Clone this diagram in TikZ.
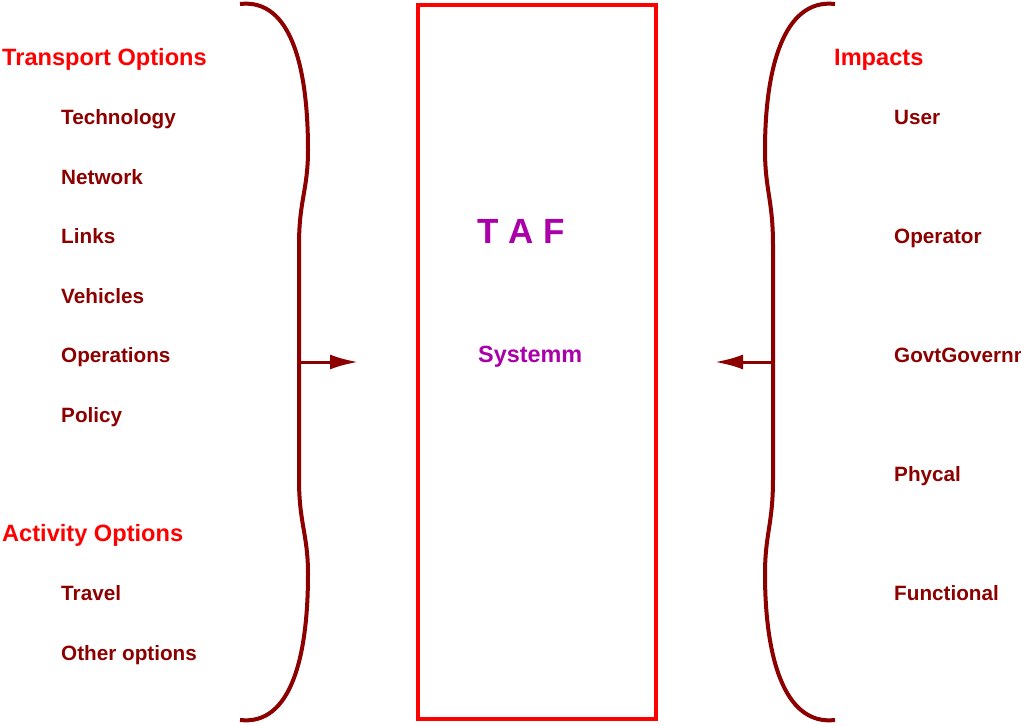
\documentclass[tikz,border=0pt]{standalone}
\usepackage{fontspec}
\setmainfont{Liberation Sans}
\usetikzlibrary{arrows.meta}
\definecolor{dred}{RGB}{140,0,0}
\definecolor{hred}{RGB}{255,0,0}
\definecolor{taf}{RGB}{170,0,170}
\tikzset{
  head/.style={anchor=base west,inner sep=0pt,text=hred,font=\fontsize{23.6}{26}\selectfont\bfseries},
  item/.style={anchor=base west,inner sep=0pt,text=dred,font=\fontsize{20.7}{24}\selectfont\bfseries},
  brace/.style={draw=dred,line width=4pt},
  conn/.style={draw=dred,line width=3pt,-{Latex[length=28pt,width=15pt]}},
}
\begin{document}
\begin{tikzpicture}[x=1pt,y=-1pt]
\useasboundingbox (0,0) rectangle (1021,726);
\begin{scope}
\clip (0,0) rectangle (1021,726);
% central box
\node[draw=hred,line width=3.5pt,minimum width=238pt,minimum height=714pt,inner sep=0pt] (box) at (537,362) {};
\node[anchor=base west,inner sep=0pt,text=taf,font=\fontsize{35}{40}\selectfont\bfseries] (taf) at (477,243) {T A F};
\node[anchor=base west,inner sep=0pt,text=taf,font=\fontsize{23.4}{26}\selectfont\bfseries] (sys) at (478,362) {Systemm};
% left texts
\node[head] (trans) at (2,65.5) {Transport Options};
\node[item] (tech) at (61,124.5) {Technology};
\node[item] (net) at (61,184.5) {Network};
\node[item] (links) at (61,243.5) {Links};
\node[item] (veh) at (61,303.5) {Vehicles};
\node[item] (ops) at (61,362.5) {Operations};
\node[item] (pol) at (61,422.5) {Policy};
\node[head] (act) at (2,541.5) {Activity Options};
\node[item] (trav) at (61,600.5) {Travel};
\node[item] (oth) at (61,660.5) {Other options};
% right texts
\node[head] (imp) at (834,65.5) {Impacts};
\node[item] (user) at (894,124.5) {User};
\node[item] (oper) at (894,243.5) {Operator};
\node[item] (govt) at (894,362.5) {GovtGovernment};
\node[item] (phy) at (894,481.5) {Phycal};
\node[item] (func) at (894,600.5) {Functional};
% braces
\draw[brace] (240,4) .. controls (292,-2) and (308,70) .. (308,150)
  .. controls (308,190) and (299,200) .. (299,245) -- (299,479)
  .. controls (299,524) and (308,534) .. (308,574)
  .. controls (308,654) and (292,726) .. (240,720);
\draw[brace] (835,4) .. controls (783,-2) and (765,70) .. (765,150)
  .. controls (765,190) and (773,200) .. (773,245) -- (773,479)
  .. controls (773,524) and (765,534) .. (765,574)
  .. controls (765,654) and (783,726) .. (835,720);
\coordinate (lmid) at (299,362);
\coordinate (ltip) at (358,362);
\coordinate (rmid) at (773,362);
\coordinate (rtip) at (715,362);
\draw[conn] (lmid) -- (ltip);
\draw[conn] (rmid) -- (rtip);
\end{scope}
\end{tikzpicture}
\end{document}
